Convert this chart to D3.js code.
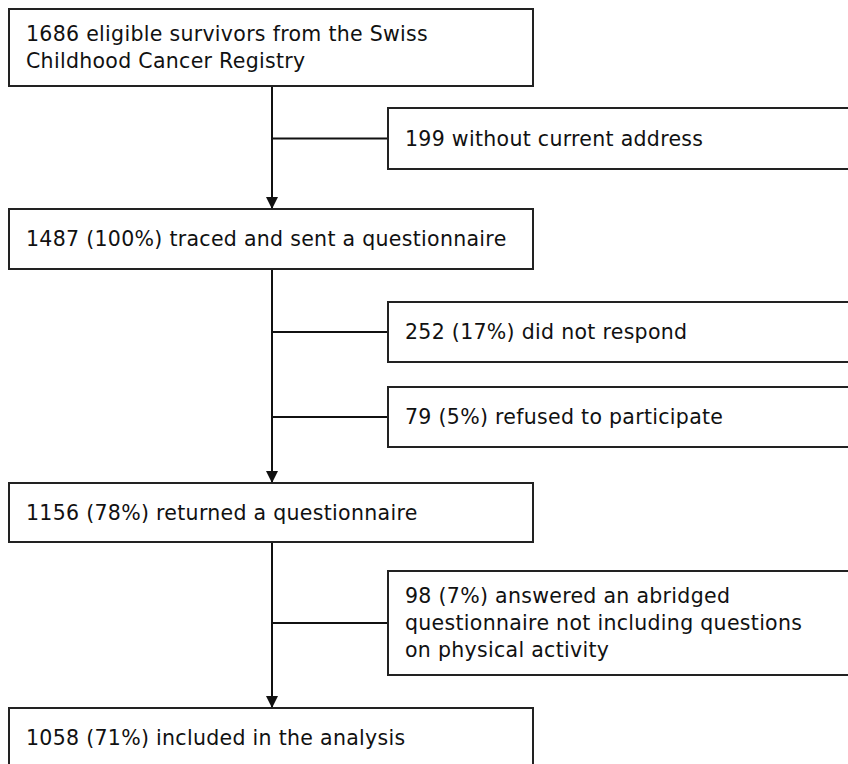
<!DOCTYPE html>
<html>
<head>
<meta charset="utf-8">
<script src="https://cdn.jsdelivr.net/npm/d3@7"></script>
<style>
  body { margin: 0; background: #fff; }
  text { font-family: "DejaVu Sans", sans-serif; font-size: 20.5px; letter-spacing: 0.3px; fill: #111; }
</style>
</head>
<body>
<div class="chart"></div>
<script>
// main flow (one entry per box, lines of text)
var mainLabels = [
	['1686 eligible survivors from the Swiss', 'Childhood Cancer Registry'],
	['1487 (100%) traced and sent a questionnaire'],
	['1156 (78%) returned a questionnaire'],
	['1058 (71%) included in the analysis']
];

// exclusions branching off to the right
var exclLabels = [
	['199 without current address'],
	['252 (17%) did not respond'],
	['79 (5%) refused to participate'],
	['98 (7%) answered an abridged', 'questionnaire not including questions', 'on physical activity']
];

var width = 848, height = 764;

// layout of the boxes (pixels)
var mainTop = [9, 209, 483, 708];
var mainH = [77, 60, 59, 60];
var sideTop = [108, 302, 387, 571];
var sideH = [61, 60, 60, 104];

var x = d3.scaleLinear().domain([0, 1]).range([9, 533]);   // main box span
var xs = d3.scaleLinear().domain([0, 1]).range([388, 852]); // side box span
var spineX = 272;
var lineH = 27;

var svg = d3.select('.chart')
	.append('svg')
		.attr('width', width)
		.attr('height', height);

svg.append('defs').append('marker')
	.attr('id', 'arrow')
	.attr('viewBox', '0 0 12 12')
	.attr('refX', 12).attr('refY', 6)
	.attr('markerWidth', 12).attr('markerHeight', 13)
	.attr('markerUnits', 'userSpaceOnUse')
	.attr('orient', 'auto')
	.append('path')
		.attr('d', 'M0,0 L12,6 L0,12 Z')
		.style('fill', '#111');

// vertical arrows between main boxes
var gaps = d3.range(mainLabels.length - 1);
svg.selectAll('line.spine')
	.data(gaps)
	.enter()
	.append('line')
		.attr('class', 'spine')
		.attr('x1', spineX).attr('x2', spineX)
		.attr('y1', i => mainTop[i] + mainH[i])
		.attr('y2', i => mainTop[i + 1])
		.attr('marker-end', 'url(#arrow)')
		.style('stroke', '#111')
		.style('stroke-width', 2);

// horizontal connectors to exclusion boxes
svg.selectAll('line.branch')
	.data(exclLabels)
	.enter()
	.append('line')
		.attr('class', 'branch')
		.attr('x1', spineX).attr('x2', xs(0))
		.attr('y1', (d, i) => sideTop[i] + sideH[i] / 2)
		.attr('y2', (d, i) => sideTop[i] + sideH[i] / 2)
		.style('stroke', '#111')
		.style('stroke-width', 2);

function drawBoxes(cls, labels, xScale, tops, hs) {
	var g = svg.selectAll('g.' + cls)
		.data(labels)
		.enter()
		.append('g')
			.attr('class', cls);

	g.append('rect')
		.attr('x', xScale(0))
		.attr('y', (d, i) => tops[i])
		.attr('width', xScale(1) - xScale(0))
		.attr('height', (d, i) => hs[i])
		.style('fill', '#fff')
		.style('stroke', '#222')
		.style('stroke-width', 2);

	g.append('text')
		.attr('x', xScale(0) + 17)
		.attr('y', (d, i) => tops[i] + hs[i] / 2 + 7 - (d.length - 1) * lineH / 2)
		.selectAll('tspan')
		.data(d => d)
		.enter()
		.append('tspan')
			.attr('x', xScale(0) + 17)
			.attr('dy', (t, j) => j === 0 ? 0 : lineH)
			.text(t => t);
}

drawBoxes('main', mainLabels, x, mainTop, mainH);
drawBoxes('side', exclLabels, xs, sideTop, sideH);
</script>
</body>
</html>
